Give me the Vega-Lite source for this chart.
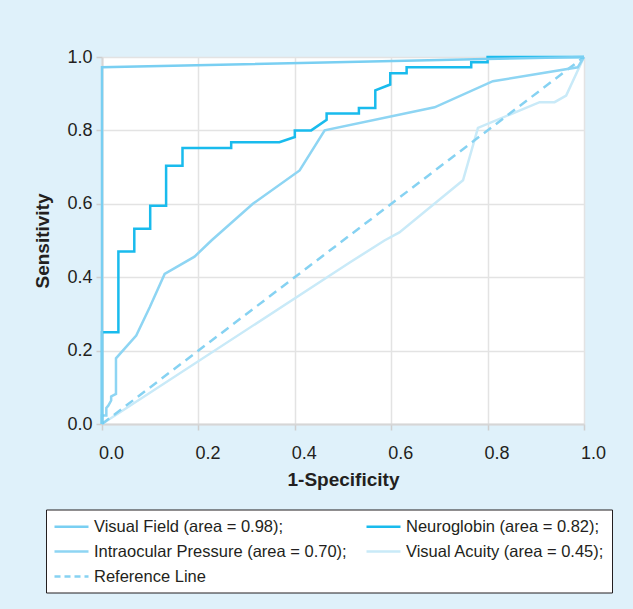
{
  "$schema": "https://vega.github.io/schema/vega-lite/v6.json",
  "autosize": {"type": "none"},
  "width": 482,
  "height": 367,
  "padding": {"left": 102, "top": 57, "right": 49, "bottom": 185},
  "background": "#dff1fa",
  "config": {
    "view": {"fill": "#ffffff", "stroke": null},
    "font": "Liberation Sans",
    "axis": {
      "labelFont": "Liberation Sans",
      "labelFontSize": 18,
      "labelColor": "#231f20",
      "titleFont": "Liberation Sans",
      "titleFontSize": 19,
      "titleFontWeight": "bold",
      "titleColor": "#231f20",
      "gridColor": "#e3e3e3",
      "gridWidth": 1.5,
      "tickColor": "#cfcfcf",
      "tickSize": 6,
      "tickWidth": 1.5,
      "domainColor": "#d6d6d6",
      "domainWidth": 2,
      "labelFlush": false,
      "labelOverlap": false
    }
  },
  "data": {
    "values": [
      {"series": "Visual Acuity (area = 0.45);", "i": 0, "fpr": 0, "tpr": 0},
      {"series": "Visual Acuity (area = 0.45);", "i": 1, "fpr": 0.514, "tpr": 0.44},
      {"series": "Visual Acuity (area = 0.45);", "i": 2, "fpr": 0.586, "tpr": 0.5},
      {"series": "Visual Acuity (area = 0.45);", "i": 3, "fpr": 0.617, "tpr": 0.522},
      {"series": "Visual Acuity (area = 0.45);", "i": 4, "fpr": 0.749, "tpr": 0.664},
      {"series": "Visual Acuity (area = 0.45);", "i": 5, "fpr": 0.78, "tpr": 0.807},
      {"series": "Visual Acuity (area = 0.45);", "i": 6, "fpr": 0.908, "tpr": 0.877},
      {"series": "Visual Acuity (area = 0.45);", "i": 7, "fpr": 0.939, "tpr": 0.877},
      {"series": "Visual Acuity (area = 0.45);", "i": 8, "fpr": 0.963, "tpr": 0.895},
      {"series": "Visual Acuity (area = 0.45);", "i": 9, "fpr": 1, "tpr": 1},
      {"series": "Reference Line", "i": 0, "fpr": 0, "tpr": 0},
      {"series": "Reference Line", "i": 1, "fpr": 1, "tpr": 1},
      {"series": "Intraocular Pressure (area = 0.70);", "i": 0, "fpr": 0, "tpr": 0},
      {"series": "Intraocular Pressure (area = 0.70);", "i": 1, "fpr": 0, "tpr": 0.023},
      {"series": "Intraocular Pressure (area = 0.70);", "i": 2, "fpr": 0.009, "tpr": 0.023},
      {"series": "Intraocular Pressure (area = 0.70);", "i": 3, "fpr": 0.009, "tpr": 0.044},
      {"series": "Intraocular Pressure (area = 0.70);", "i": 4, "fpr": 0.013, "tpr": 0.05},
      {"series": "Intraocular Pressure (area = 0.70);", "i": 5, "fpr": 0.019, "tpr": 0.064},
      {"series": "Intraocular Pressure (area = 0.70);", "i": 6, "fpr": 0.019, "tpr": 0.075},
      {"series": "Intraocular Pressure (area = 0.70);", "i": 7, "fpr": 0.029, "tpr": 0.082},
      {"series": "Intraocular Pressure (area = 0.70);", "i": 8, "fpr": 0.029, "tpr": 0.179},
      {"series": "Intraocular Pressure (area = 0.70);", "i": 9, "fpr": 0.071, "tpr": 0.241},
      {"series": "Intraocular Pressure (area = 0.70);", "i": 10, "fpr": 0.099, "tpr": 0.318},
      {"series": "Intraocular Pressure (area = 0.70);", "i": 11, "fpr": 0.13, "tpr": 0.409},
      {"series": "Intraocular Pressure (area = 0.70);", "i": 12, "fpr": 0.192, "tpr": 0.456},
      {"series": "Intraocular Pressure (area = 0.70);", "i": 13, "fpr": 0.227, "tpr": 0.5},
      {"series": "Intraocular Pressure (area = 0.70);", "i": 14, "fpr": 0.313, "tpr": 0.6},
      {"series": "Intraocular Pressure (area = 0.70);", "i": 15, "fpr": 0.41, "tpr": 0.691},
      {"series": "Intraocular Pressure (area = 0.70);", "i": 16, "fpr": 0.462, "tpr": 0.8},
      {"series": "Intraocular Pressure (area = 0.70);", "i": 17, "fpr": 0.69, "tpr": 0.863},
      {"series": "Intraocular Pressure (area = 0.70);", "i": 18, "fpr": 0.811, "tpr": 0.934},
      {"series": "Intraocular Pressure (area = 0.70);", "i": 19, "fpr": 0.987, "tpr": 0.972},
      {"series": "Intraocular Pressure (area = 0.70);", "i": 20, "fpr": 1, "tpr": 1},
      {"series": "Neuroglobin (area = 0.82);", "i": 0, "fpr": 0, "tpr": 0},
      {"series": "Neuroglobin (area = 0.82);", "i": 1, "fpr": 0, "tpr": 0.25},
      {"series": "Neuroglobin (area = 0.82);", "i": 2, "fpr": 0.034, "tpr": 0.25},
      {"series": "Neuroglobin (area = 0.82);", "i": 3, "fpr": 0.034, "tpr": 0.47},
      {"series": "Neuroglobin (area = 0.82);", "i": 4, "fpr": 0.067, "tpr": 0.47},
      {"series": "Neuroglobin (area = 0.82);", "i": 5, "fpr": 0.067, "tpr": 0.532},
      {"series": "Neuroglobin (area = 0.82);", "i": 6, "fpr": 0.1, "tpr": 0.532},
      {"series": "Neuroglobin (area = 0.82);", "i": 7, "fpr": 0.1, "tpr": 0.595},
      {"series": "Neuroglobin (area = 0.82);", "i": 8, "fpr": 0.133, "tpr": 0.595},
      {"series": "Neuroglobin (area = 0.82);", "i": 9, "fpr": 0.133, "tpr": 0.704},
      {"series": "Neuroglobin (area = 0.82);", "i": 10, "fpr": 0.167, "tpr": 0.704},
      {"series": "Neuroglobin (area = 0.82);", "i": 11, "fpr": 0.167, "tpr": 0.752},
      {"series": "Neuroglobin (area = 0.82);", "i": 12, "fpr": 0.268, "tpr": 0.752},
      {"series": "Neuroglobin (area = 0.82);", "i": 13, "fpr": 0.268, "tpr": 0.768},
      {"series": "Neuroglobin (area = 0.82);", "i": 14, "fpr": 0.368, "tpr": 0.768},
      {"series": "Neuroglobin (area = 0.82);", "i": 15, "fpr": 0.4, "tpr": 0.782},
      {"series": "Neuroglobin (area = 0.82);", "i": 16, "fpr": 0.4, "tpr": 0.8},
      {"series": "Neuroglobin (area = 0.82);", "i": 17, "fpr": 0.434, "tpr": 0.8},
      {"series": "Neuroglobin (area = 0.82);", "i": 18, "fpr": 0.466, "tpr": 0.829},
      {"series": "Neuroglobin (area = 0.82);", "i": 19, "fpr": 0.466, "tpr": 0.846},
      {"series": "Neuroglobin (area = 0.82);", "i": 20, "fpr": 0.533, "tpr": 0.846},
      {"series": "Neuroglobin (area = 0.82);", "i": 21, "fpr": 0.533, "tpr": 0.861},
      {"series": "Neuroglobin (area = 0.82);", "i": 22, "fpr": 0.567, "tpr": 0.861},
      {"series": "Neuroglobin (area = 0.82);", "i": 23, "fpr": 0.567, "tpr": 0.909},
      {"series": "Neuroglobin (area = 0.82);", "i": 24, "fpr": 0.598, "tpr": 0.925},
      {"series": "Neuroglobin (area = 0.82);", "i": 25, "fpr": 0.598, "tpr": 0.956},
      {"series": "Neuroglobin (area = 0.82);", "i": 26, "fpr": 0.632, "tpr": 0.956},
      {"series": "Neuroglobin (area = 0.82);", "i": 27, "fpr": 0.632, "tpr": 0.972},
      {"series": "Neuroglobin (area = 0.82);", "i": 28, "fpr": 0.766, "tpr": 0.972},
      {"series": "Neuroglobin (area = 0.82);", "i": 29, "fpr": 0.766, "tpr": 0.986},
      {"series": "Neuroglobin (area = 0.82);", "i": 30, "fpr": 0.8, "tpr": 0.986},
      {"series": "Neuroglobin (area = 0.82);", "i": 31, "fpr": 0.8, "tpr": 1},
      {"series": "Neuroglobin (area = 0.82);", "i": 32, "fpr": 1, "tpr": 1},
      {"series": "Visual Field (area = 0.98);", "i": 0, "fpr": 0, "tpr": 0},
      {"series": "Visual Field (area = 0.98);", "i": 1, "fpr": 0, "tpr": 0.972},
      {"series": "Visual Field (area = 0.98);", "i": 2, "fpr": 1, "tpr": 1}
    ]
  },
  "encoding": {
    "x": {
      "field": "fpr",
      "type": "quantitative",
      "scale": {"domain": [0, 1], "nice": false, "zero": false},
      "axis": {
        "title": "1-Specificity",
        "values": [0, 0.2, 0.4, 0.6, 0.8, 1],
        "format": ".1f",
        "labelPadding": 14,
        "labelOffset": 9,
        "titlePadding": 8
      }
    },
    "y": {
      "field": "tpr",
      "type": "quantitative",
      "scale": {"domain": [0, 1], "nice": false, "zero": false},
      "axis": {
        "title": "Sensitivity",
        "values": [0, 0.2, 0.4, 0.6, 0.8, 1],
        "format": ".1f",
        "labelPadding": 4,
        "titlePadding": 14
      }
    },
    "order": {"field": "i", "type": "quantitative"},
    "color": {
      "field": "series",
      "type": "nominal",
      "scale": {
        "domain": ["Visual Field (area = 0.98);", "Neuroglobin (area = 0.82);", "Intraocular Pressure (area = 0.70);", "Visual Acuity (area = 0.45);", "Reference Line"],
        "range": ["#79cff2", "#19bbed", "#8ed5f3", "#c9eaf8", "#86d2f2"]
      },
      "legend": {
        "title": null,
        "orient": "none",
        "direction": "horizontal",
        "legendX": -56,
        "legendY": 452.5,
        "columns": 2,
        "strokeColor": "#231f20",
        "fillColor": "#ffffff",
        "padding": 7,
        "symbolType": "M-1,0H3",
        "symbolSize": 289,
        "symbolStrokeWidth": 2.5,
        "labelFont": "Liberation Sans",
        "labelFontSize": 16.5,
        "labelColor": "#231f20",
        "labelOffset": 21,
        "labelLimit": 400,
        "rowPadding": 6,
        "columnPadding": 14,
        "cornerRadius": 0,
        "encode": {
          "symbols": {
            "update": {
              "strokeDash": {"signal": "datum.label === 'Reference Line' ? [6, 4] : [1, 0]"}
            }
          }
        }
      }
    }
  },
  "layer": [
    {
      "transform": [{"filter": "datum.series === 'Visual Acuity (area = 0.45);'"}],
      "mark": {"type": "line", "strokeWidth": 2.5}
    },
    {
      "transform": [{"filter": "datum.series === 'Reference Line'"}],
      "mark": {"type": "line", "strokeWidth": 2.5, "strokeDash": [9, 6]}
    },
    {
      "transform": [{"filter": "datum.series !== 'Reference Line' && datum.series !== 'Visual Acuity (area = 0.45);'"}],
      "mark": {"type": "line", "strokeWidth": 2.5}
    }
  ]
}
